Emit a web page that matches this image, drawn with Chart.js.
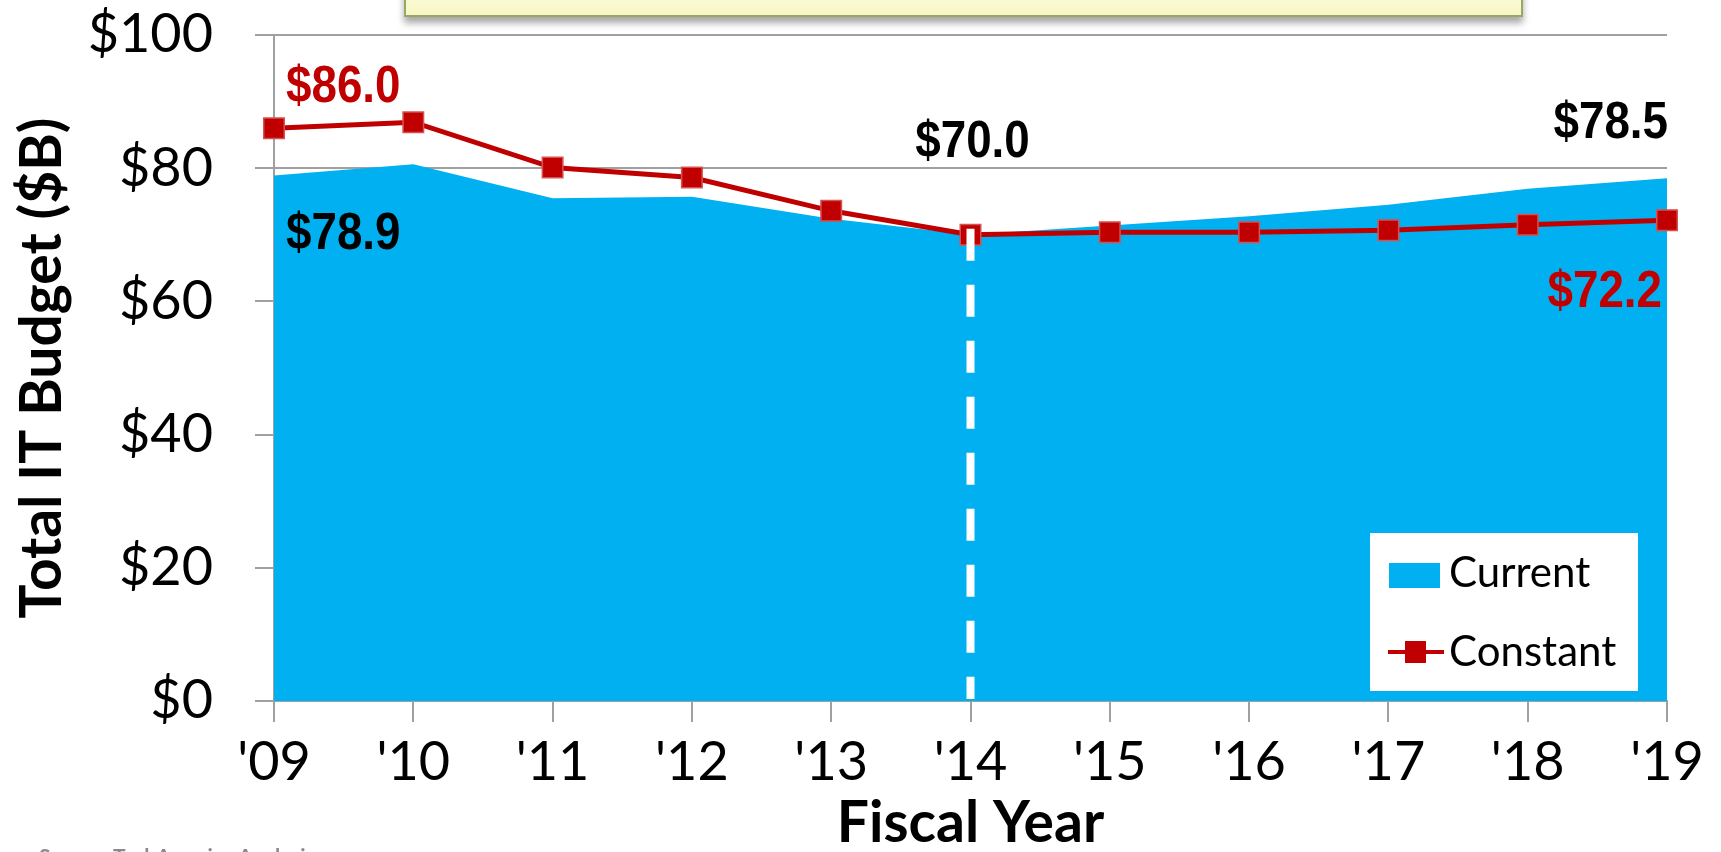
<!DOCTYPE html>
<html>
<head>
<meta charset="utf-8">
<script src="https://cdn.jsdelivr.net/npm/chart.js@4.4.1/dist/chart.umd.min.js"></script>
<style>
    body { margin: 0; background: #fff; overflow: hidden; }
    #wrap { position: relative; width: 1721px; height: 852px; }
    #titleBox {
        position: absolute; left: 404px; top: -30px; width: 1115px; height: 43px;
        background: linear-gradient(#ffffe6, #f7f7c6);
        border: 2px solid #98a862;
        box-shadow: 0 6px 7px rgba(0, 0, 0, 0.35);
    }
    #source {
        position: absolute; left: 39px; top: 843px;
        font: bold 21px Lato, sans-serif; color: #8a8a8a; white-space: nowrap;
    }
</style>
</head>
<body>
<div id="wrap">
    <canvas id="budgetChart" width="1721" height="852"></canvas>
    <div id="titleBox"></div>
    <div id="source">Source: TechAmerica Analysis</div>
</div>
<script>
    // dados
    const years = ["'09", "'10", "'11", "'12", "'13", "'14", "'15", "'16", "'17", "'18", "'19"];
    const currentDollars = [78.9, 80.6, 75.5, 75.7, 72.4, 70.0, 71.4, 72.8, 74.5, 76.9, 78.5];
    const constantDollars = [86.0, 86.9, 80.1, 78.6, 73.6, 70.0, 70.4, 70.4, 70.7, 71.5, 72.2];
    const yTicks = [0, 20, 40, 60, 80, 100];

    const BLUE = '#00B0F0';
    const RED = '#C00000';
    const GRAY = '#a0a0a0';

    Chart.defaults.font.family = 'Lato';
    Chart.defaults.color = '#000';

    // linha tracejada branca no ano base ('14) - desenhada por cima dos marcadores
    const baseYearLine = {
        id: 'baseYearLine',
        afterDatasetsDraw(chart) {
            const pt = chart.getDatasetMeta(1).data[5];
            const ctx = chart.ctx;
            ctx.save();
            ctx.strokeStyle = '#fff';
            ctx.lineWidth = 8;
            ctx.setLineDash([32, 24]);
            ctx.beginPath();
            ctx.moveTo(pt.x, pt.y - 6);
            ctx.lineTo(pt.x, chart.chartArea.bottom - 2);
            ctx.stroke();
            ctx.restore();
        }
    };

    // rótulos de valor
    const valueLabels = {
        id: 'valueLabels',
        afterDatasetsDraw(chart) {
            const items = [
                { ds: 1, i: 0, dx: 12, dy: -41, align: 'left', color: RED },
                { ds: 0, i: 0, dx: 12, dy: 59, align: 'left', color: '#000' },
                { ds: 1, i: 5, dx: 2, dy: -92, align: 'center', color: '#000' },
                { ds: 0, i: 10, dx: 1, dy: -55, align: 'right', color: '#000' },
                { ds: 1, i: 10, dx: -5, dy: 73, align: 'right', color: RED }
            ];
            const ctx = chart.ctx;
            items.forEach((it) => {
                const pt = chart.getDatasetMeta(it.ds).data[it.i];
                const value = chart.data.datasets[it.ds].data[it.i];
                ctx.save();
                ctx.translate(pt.x + it.dx, pt.y + it.dy);
                ctx.scale(0.88, 1);
                ctx.font = 'bold 52px "Liberation Sans", Arial, sans-serif';
                ctx.fillStyle = it.color;
                ctx.textAlign = it.align;
                ctx.textBaseline = 'middle';
                ctx.fillText('$' + value.toFixed(1), 0, 0);
                ctx.restore();
            });
        }
    };

    // legenda dentro da área do gráfico
    const insideLegend = {
        id: 'insideLegend',
        afterDraw(chart) {
            const ctx = chart.ctx;
            const area = chart.chartArea;
            const w = 268, h = 158;
            const x = area.right - 29 - w;
            const y = area.bottom - 10 - h;
            ctx.save();
            ctx.fillStyle = '#fff';
            ctx.fillRect(x, y, w, h);

            ctx.fillStyle = BLUE;
            ctx.fillRect(x + 19, y + 30, 51, 25);

            ctx.strokeStyle = RED;
            ctx.lineWidth = 4;
            ctx.beginPath();
            ctx.moveTo(x + 18, y + 119);
            ctx.lineTo(x + 74, y + 119);
            ctx.stroke();
            ctx.fillStyle = RED;
            ctx.fillRect(x + 35, y + 108, 21, 22);

            ctx.fillStyle = '#000';
            ctx.font = '42px Lato';
            ctx.textBaseline = 'middle';
            ctx.fillText(chart.data.datasets[0].label, x + 79, y + 40);
            ctx.fillText(chart.data.datasets[1].label, x + 79, y + 119);
            ctx.restore();
        }
    };

    const ctx = document.getElementById('budgetChart').getContext('2d');
    const budgetChart = new Chart(ctx, {
        type: 'line',
        data: {
            labels: years,
            datasets: [
                {
                    label: 'Current',
                    data: currentDollars,
                    fill: 'origin',
                    backgroundColor: BLUE,
                    borderColor: BLUE,
                    borderWidth: 0,
                    pointRadius: 0,
                    tension: 0,
                    order: 2
                },
                {
                    label: 'Constant',
                    data: constantDollars,
                    fill: false,
                    borderColor: RED,
                    borderWidth: 5,
                    pointStyle: 'rect',
                    pointRadius: 14.5,
                    pointBackgroundColor: RED,
                    pointBorderColor: '#d65252',
                    pointBorderWidth: 1.5,
                    tension: 0,
                    order: 1
                }
            ]
        },
        options: {
            responsive: false,
            animation: false,
            layout: { padding: { top: 35, right: 54, left: 0, bottom: 0 } },
            plugins: {
                legend: { display: false },
                tooltip: { enabled: false }
            },
            scales: {
                x: {
                    offset: false,
                    z: 1,
                    grid: {
                        drawOnChartArea: false,
                        color: GRAY,
                        lineWidth: 2,
                        tickLength: 21
                    },
                    border: { color: GRAY, width: 2 },
                    ticks: {
                        font: { size: 54 },
                        padding: 8,
                        maxRotation: 0,
                        autoSkip: false
                    },
                    title: {
                        display: true,
                        text: 'Fiscal Year',
                        font: { size: 57, weight: 'bold', lineHeight: 1 },
                        padding: 0
                    },
                    afterFit(scale) {
                        scale.height = 151;
                        scale.paddingLeft = 0;
                        scale.paddingRight = 0;
                    }
                },
                y: {
                    min: 0,
                    max: 100,
                    afterBuildTicks(scale) {
                        scale.ticks = yTicks.map((v) => ({ value: v }));
                    },
                    grid: {
                        color: GRAY,
                        lineWidth: 2,
                        tickLength: 19
                    },
                    border: { color: GRAY, width: 2 },
                    ticks: {
                        font: { size: 54 },
                        padding: 42,
                        callback: (v) => '$' + v
                    },
                    title: {
                        display: true,
                        text: 'Total IT Budget ($B)',
                        font: { size: 57, weight: 'bold', lineHeight: 1 },
                        padding: { top: 14, bottom: 0 }
                    },
                    afterFit(scale) {
                        scale.width = 274;
                        scale.paddingTop = 0;
                        scale.paddingBottom = 0;
                    }
                }
            }
        },
        plugins: [baseYearLine, valueLabels, insideLegend]
    });
</script>
</body>
</html>
